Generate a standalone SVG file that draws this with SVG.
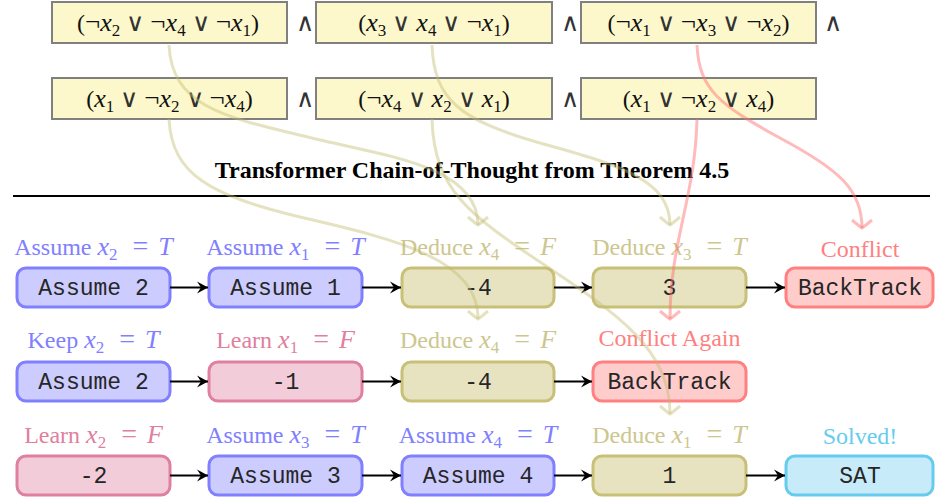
<svg xmlns="http://www.w3.org/2000/svg" width="935" height="502" viewBox="0 0 935 502">
<style>
.cb{fill:#fdf8cc;stroke:#808080;stroke-width:2}
.cl{font-family:"Liberation Serif","DejaVu Serif",serif;font-size:24px;fill:#111;text-anchor:middle}
.x{font-style:italic;font-size:26px}
.ng{font-size:27px}
.op{font-family:"DejaVu Sans",sans-serif;font-weight:200;font-size:25px;fill:#333}
.eq{font-size:28px}
.sb{font-size:17px}
.tt{font-family:"Liberation Mono","DejaVu Sans Mono",monospace;font-size:23px;fill:#262626;text-anchor:middle}
.lb{font-family:"Liberation Serif","DejaVu Serif",serif;font-size:24px;text-anchor:middle}
.nb rect{stroke-width:3}
.blue rect{fill:#ccccff;stroke:#8080ff}
.olive rect{fill:#e7e3c1;stroke:#c9c078}
.red rect{fill:#ffcccc;stroke:#ff8080}
.pink rect{fill:#f2ccd9;stroke:#df809f}
.cyan rect{fill:#c7ebf9;stroke:#66ccee}
.blue .lb{fill:#8080ff}
.olive .lb{fill:#cdc68e}
.red .lb{fill:#ff8080}
.pink .lb{fill:#df809f}
.cyan .lb{fill:#66ccee}
.ar{stroke:#000;stroke-width:2;fill:none;marker-end:url(#ah)}
.co{fill:none;stroke:#c2ba6e;stroke-opacity:0.42;stroke-width:3;marker-end:url(#mo)}
.cr{fill:none;stroke:#ff7070;stroke-opacity:0.48;stroke-width:3;marker-end:url(#mr)}
</style>
<defs>
<marker id="ah" viewBox="-12 -7 13 14" refX="0" refY="0" markerWidth="13" markerHeight="14" markerUnits="userSpaceOnUse" orient="auto">
<path d="M0,0 L-11,-6 L-7,0 L-11,6 Z" fill="#000"/>
</marker>
<marker id="mo" viewBox="-10 -12 12 24" refX="0" refY="0" markerWidth="12" markerHeight="24" markerUnits="userSpaceOnUse" orient="auto">
<path d="M-8,-10 Q-2,-3 0,0 Q-2,3 -8,10" fill="none" stroke="#c2ba6e" stroke-opacity="0.42" stroke-width="3"/>
</marker>
<marker id="mr" viewBox="-10 -12 12 24" refX="0" refY="0" markerWidth="12" markerHeight="24" markerUnits="userSpaceOnUse" orient="auto">
<path d="M-8,-10 Q-2,-3 0,0 Q-2,3 -8,10" fill="none" stroke="#ff7070" stroke-opacity="0.48" stroke-width="3"/>
</marker>
</defs>

<g id="clauses">
<g id="c1"><rect class="cb" x="52" y="2" width="235" height="41"/>
<text class="cl" x="168" y="31">(<tspan class="ng">¬</tspan><tspan class="x">x</tspan><tspan class="sb" dy="5">2</tspan><tspan class="op" dy="-5" dx="6">∨</tspan><tspan class="ng" dx="6">¬</tspan><tspan class="x">x</tspan><tspan class="sb" dy="5">4</tspan><tspan class="op" dy="-5" dx="6">∨</tspan><tspan class="ng" dx="6">¬</tspan><tspan class="x">x</tspan><tspan class="sb" dy="5">1</tspan><tspan dy="-5">)</tspan></text></g>
<g id="c2"><rect class="cb" x="316" y="2" width="236" height="41"/>
<text class="cl" x="434" y="31">(<tspan class="x">x</tspan><tspan class="sb" dy="5">3</tspan><tspan class="op" dy="-5" dx="6">∨</tspan><tspan class="x" dx="6">x</tspan><tspan class="sb" dy="5">4</tspan><tspan class="op" dy="-5" dx="6">∨</tspan><tspan class="ng" dx="6">¬</tspan><tspan class="x">x</tspan><tspan class="sb" dy="5">1</tspan><tspan dy="-5">)</tspan></text></g>
<g id="c3"><rect class="cb" x="581" y="2" width="235" height="41"/>
<text class="cl" x="698.5" y="31">(<tspan class="ng">¬</tspan><tspan class="x">x</tspan><tspan class="sb" dy="5">1</tspan><tspan class="op" dy="-5" dx="6">∨</tspan><tspan class="ng" dx="6">¬</tspan><tspan class="x">x</tspan><tspan class="sb" dy="5">3</tspan><tspan class="op" dy="-5" dx="6">∨</tspan><tspan class="ng" dx="6">¬</tspan><tspan class="x">x</tspan><tspan class="sb" dy="5">2</tspan><tspan dy="-5">)</tspan></text></g>
<g id="c4"><rect class="cb" x="52" y="78" width="235" height="41"/>
<text class="cl" x="169.5" y="107">(<tspan class="x">x</tspan><tspan class="sb" dy="5">1</tspan><tspan class="op" dy="-5" dx="6">∨</tspan><tspan class="ng" dx="6">¬</tspan><tspan class="x">x</tspan><tspan class="sb" dy="5">2</tspan><tspan class="op" dy="-5" dx="6">∨</tspan><tspan class="ng" dx="6">¬</tspan><tspan class="x">x</tspan><tspan class="sb" dy="5">4</tspan><tspan dy="-5">)</tspan></text></g>
<g id="c5"><rect class="cb" x="316" y="78" width="236" height="41"/>
<text class="cl" x="434" y="107">(<tspan class="ng">¬</tspan><tspan class="x">x</tspan><tspan class="sb" dy="5">4</tspan><tspan class="op" dy="-5" dx="6">∨</tspan><tspan class="x" dx="6">x</tspan><tspan class="sb" dy="5">2</tspan><tspan class="op" dy="-5" dx="6">∨</tspan><tspan class="x" dx="6">x</tspan><tspan class="sb" dy="5">1</tspan><tspan dy="-5">)</tspan></text></g>
<g id="c6"><rect class="cb" x="581" y="78" width="235" height="41"/>
<text class="cl" x="698.5" y="107">(<tspan class="x">x</tspan><tspan class="sb" dy="5">1</tspan><tspan class="op" dy="-5" dx="6">∨</tspan><tspan class="ng" dx="6">¬</tspan><tspan class="x">x</tspan><tspan class="sb" dy="5">2</tspan><tspan class="op" dy="-5" dx="6">∨</tspan><tspan class="x" dx="6">x</tspan><tspan class="sb" dy="5">4</tspan><tspan dy="-5">)</tspan></text></g>
<text class="cl" x="305" y="31"><tspan class="op">∧</tspan></text>
<text class="cl" x="570" y="31"><tspan class="op">∧</tspan></text>
<text class="cl" x="833" y="31"><tspan class="op">∧</tspan></text>
<text class="cl" x="305" y="107"><tspan class="op">∧</tspan></text>
<text class="cl" x="570" y="107"><tspan class="op">∧</tspan></text>
</g>

<text x="472" y="178" font-family="Liberation Serif,DejaVu Serif,serif" font-weight="bold" font-size="24" text-anchor="middle" fill="#000">Transformer Chain-of-Thought from Theorem 4.5</text>
<line x1="13" y1="196" x2="930" y2="196" stroke="#000" stroke-width="2"/>

<!-- Row 1 -->
<g id="r1n1" class="nb blue"><text class="lb" x="93.5" y="255">Assume <tspan class="x">x</tspan><tspan class="sb" dy="5">2</tspan><tspan class="eq" dy="-5" dx="15">=</tspan><tspan class="x" dx="10">T</tspan></text>
<rect x="17" y="268" width="153" height="39" rx="9"/><text class="tt" x="93.5" y="295">Assume 2</text></g>
<g id="r1n2" class="nb blue"><text class="lb" x="285.5" y="255">Assume <tspan class="x">x</tspan><tspan class="sb" dy="5">1</tspan><tspan class="eq" dy="-5" dx="15">=</tspan><tspan class="x" dx="10">T</tspan></text>
<rect x="209" y="268" width="153" height="39" rx="9"/><text class="tt" x="285.5" y="295">Assume 1</text></g>
<g id="r1n3" class="nb olive"><text class="lb" x="478" y="255">Deduce <tspan class="x">x</tspan><tspan class="sb" dy="5">4</tspan><tspan class="eq" dy="-5" dx="15">=</tspan><tspan class="x" dx="10">F</tspan></text>
<rect x="402" y="268" width="152" height="39" rx="9"/><text class="tt" x="478" y="295">-4</text></g>
<g id="r1n4" class="nb olive"><text class="lb" x="669.5" y="255">Deduce <tspan class="x">x</tspan><tspan class="sb" dy="5">3</tspan><tspan class="eq" dy="-5" dx="15">=</tspan><tspan class="x" dx="10">T</tspan></text>
<rect x="593" y="268" width="153" height="39" rx="9"/><text class="tt" x="669.5" y="295">3</text></g>
<g id="r1n5" class="nb red"><text class="lb" x="860" y="257">Conflict</text>
<rect x="786" y="268" width="147" height="39" rx="9"/><text class="tt" x="860" y="295">BackTrack</text></g>

<!-- Row 2 -->
<g id="r2n1" class="nb blue"><text class="lb" x="93.5" y="348">Keep <tspan class="x">x</tspan><tspan class="sb" dy="5">2</tspan><tspan class="eq" dy="-5" dx="15">=</tspan><tspan class="x" dx="10">T</tspan></text>
<rect x="17" y="362" width="153" height="39" rx="9"/><text class="tt" x="93.5" y="389">Assume 2</text></g>
<g id="r2n2" class="nb pink"><text class="lb" x="285.5" y="348">Learn <tspan class="x">x</tspan><tspan class="sb" dy="5">1</tspan><tspan class="eq" dy="-5" dx="15">=</tspan><tspan class="x" dx="10">F</tspan></text>
<rect x="209" y="362" width="153" height="39" rx="9"/><text class="tt" x="285.5" y="389">-1</text></g>
<g id="r2n3" class="nb olive"><text class="lb" x="478" y="348">Deduce <tspan class="x">x</tspan><tspan class="sb" dy="5">4</tspan><tspan class="eq" dy="-5" dx="15">=</tspan><tspan class="x" dx="10">F</tspan></text>
<rect x="402" y="362" width="152" height="39" rx="9"/><text class="tt" x="478" y="389">-4</text></g>
<g id="r2n4" class="nb red"><text class="lb" x="669.5" y="346">Conflict Again</text>
<rect x="593" y="362" width="153" height="39" rx="9"/><text class="tt" x="669.5" y="389">BackTrack</text></g>

<!-- Row 3 -->
<g id="r3n1" class="nb pink"><text class="lb" x="93.5" y="443">Learn <tspan class="x">x</tspan><tspan class="sb" dy="5">2</tspan><tspan class="eq" dy="-5" dx="15">=</tspan><tspan class="x" dx="10">F</tspan></text>
<rect x="17" y="456" width="153" height="39" rx="9"/><text class="tt" x="93.5" y="483">-2</text></g>
<g id="r3n2" class="nb blue"><text class="lb" x="285.5" y="443">Assume <tspan class="x">x</tspan><tspan class="sb" dy="5">3</tspan><tspan class="eq" dy="-5" dx="15">=</tspan><tspan class="x" dx="10">T</tspan></text>
<rect x="209" y="456" width="153" height="39" rx="9"/><text class="tt" x="285.5" y="483">Assume 3</text></g>
<g id="r3n3" class="nb blue"><text class="lb" x="478" y="443">Assume <tspan class="x">x</tspan><tspan class="sb" dy="5">4</tspan><tspan class="eq" dy="-5" dx="15">=</tspan><tspan class="x" dx="10">T</tspan></text>
<rect x="402" y="456" width="152" height="39" rx="9"/><text class="tt" x="478" y="483">Assume 4</text></g>
<g id="r3n4" class="nb olive"><text class="lb" x="669.5" y="443">Deduce <tspan class="x">x</tspan><tspan class="sb" dy="5">1</tspan><tspan class="eq" dy="-5" dx="15">=</tspan><tspan class="x" dx="10">T</tspan></text>
<rect x="593" y="456" width="153" height="39" rx="9"/><text class="tt" x="669.5" y="483">1</text></g>
<g id="r3n5" class="nb cyan"><text class="lb" x="860" y="444">Solved!</text>
<rect x="786" y="456" width="147" height="39" rx="9"/><text class="tt" x="860" y="483">SAT</text></g>

<g id="connectors">
<path class="ar" d="M170,287.5 H208"/>
<path class="ar" d="M362,287.5 H401"/>
<path class="ar" d="M554,287.5 H592"/>
<path class="ar" d="M746,287.5 H785"/>
<path class="ar" d="M170,381.5 H208"/>
<path class="ar" d="M362,381.5 H401"/>
<path class="ar" d="M554,381.5 H592"/>
<path class="ar" d="M170,475.5 H208"/>
<path class="ar" d="M362,475.5 H401"/>
<path class="ar" d="M554,475.5 H592"/>
<path class="ar" d="M746,475.5 H785"/>
<path class="co" d="M169,45 C172,110 230,118 320,140 C400,158 478,170 478,225"/>
<path class="co" d="M169,119 C172,175 210,195 300,217 C400,240 478,260 478,319"/>
<path class="co" d="M432,45 C434,100 460,120 540,143 C620,165 670,180 670,225"/>
<path class="co" d="M432,119 C434,190 470,215 540,262 C620,315 670,350 670,414"/>
<path class="cr" d="M697,45 C699,90 720,105 780,138 C840,170 862,190 862,228"/>
<path class="cr" d="M697,119 C695,200 670,240 670,319"/>
</g>
</svg>
